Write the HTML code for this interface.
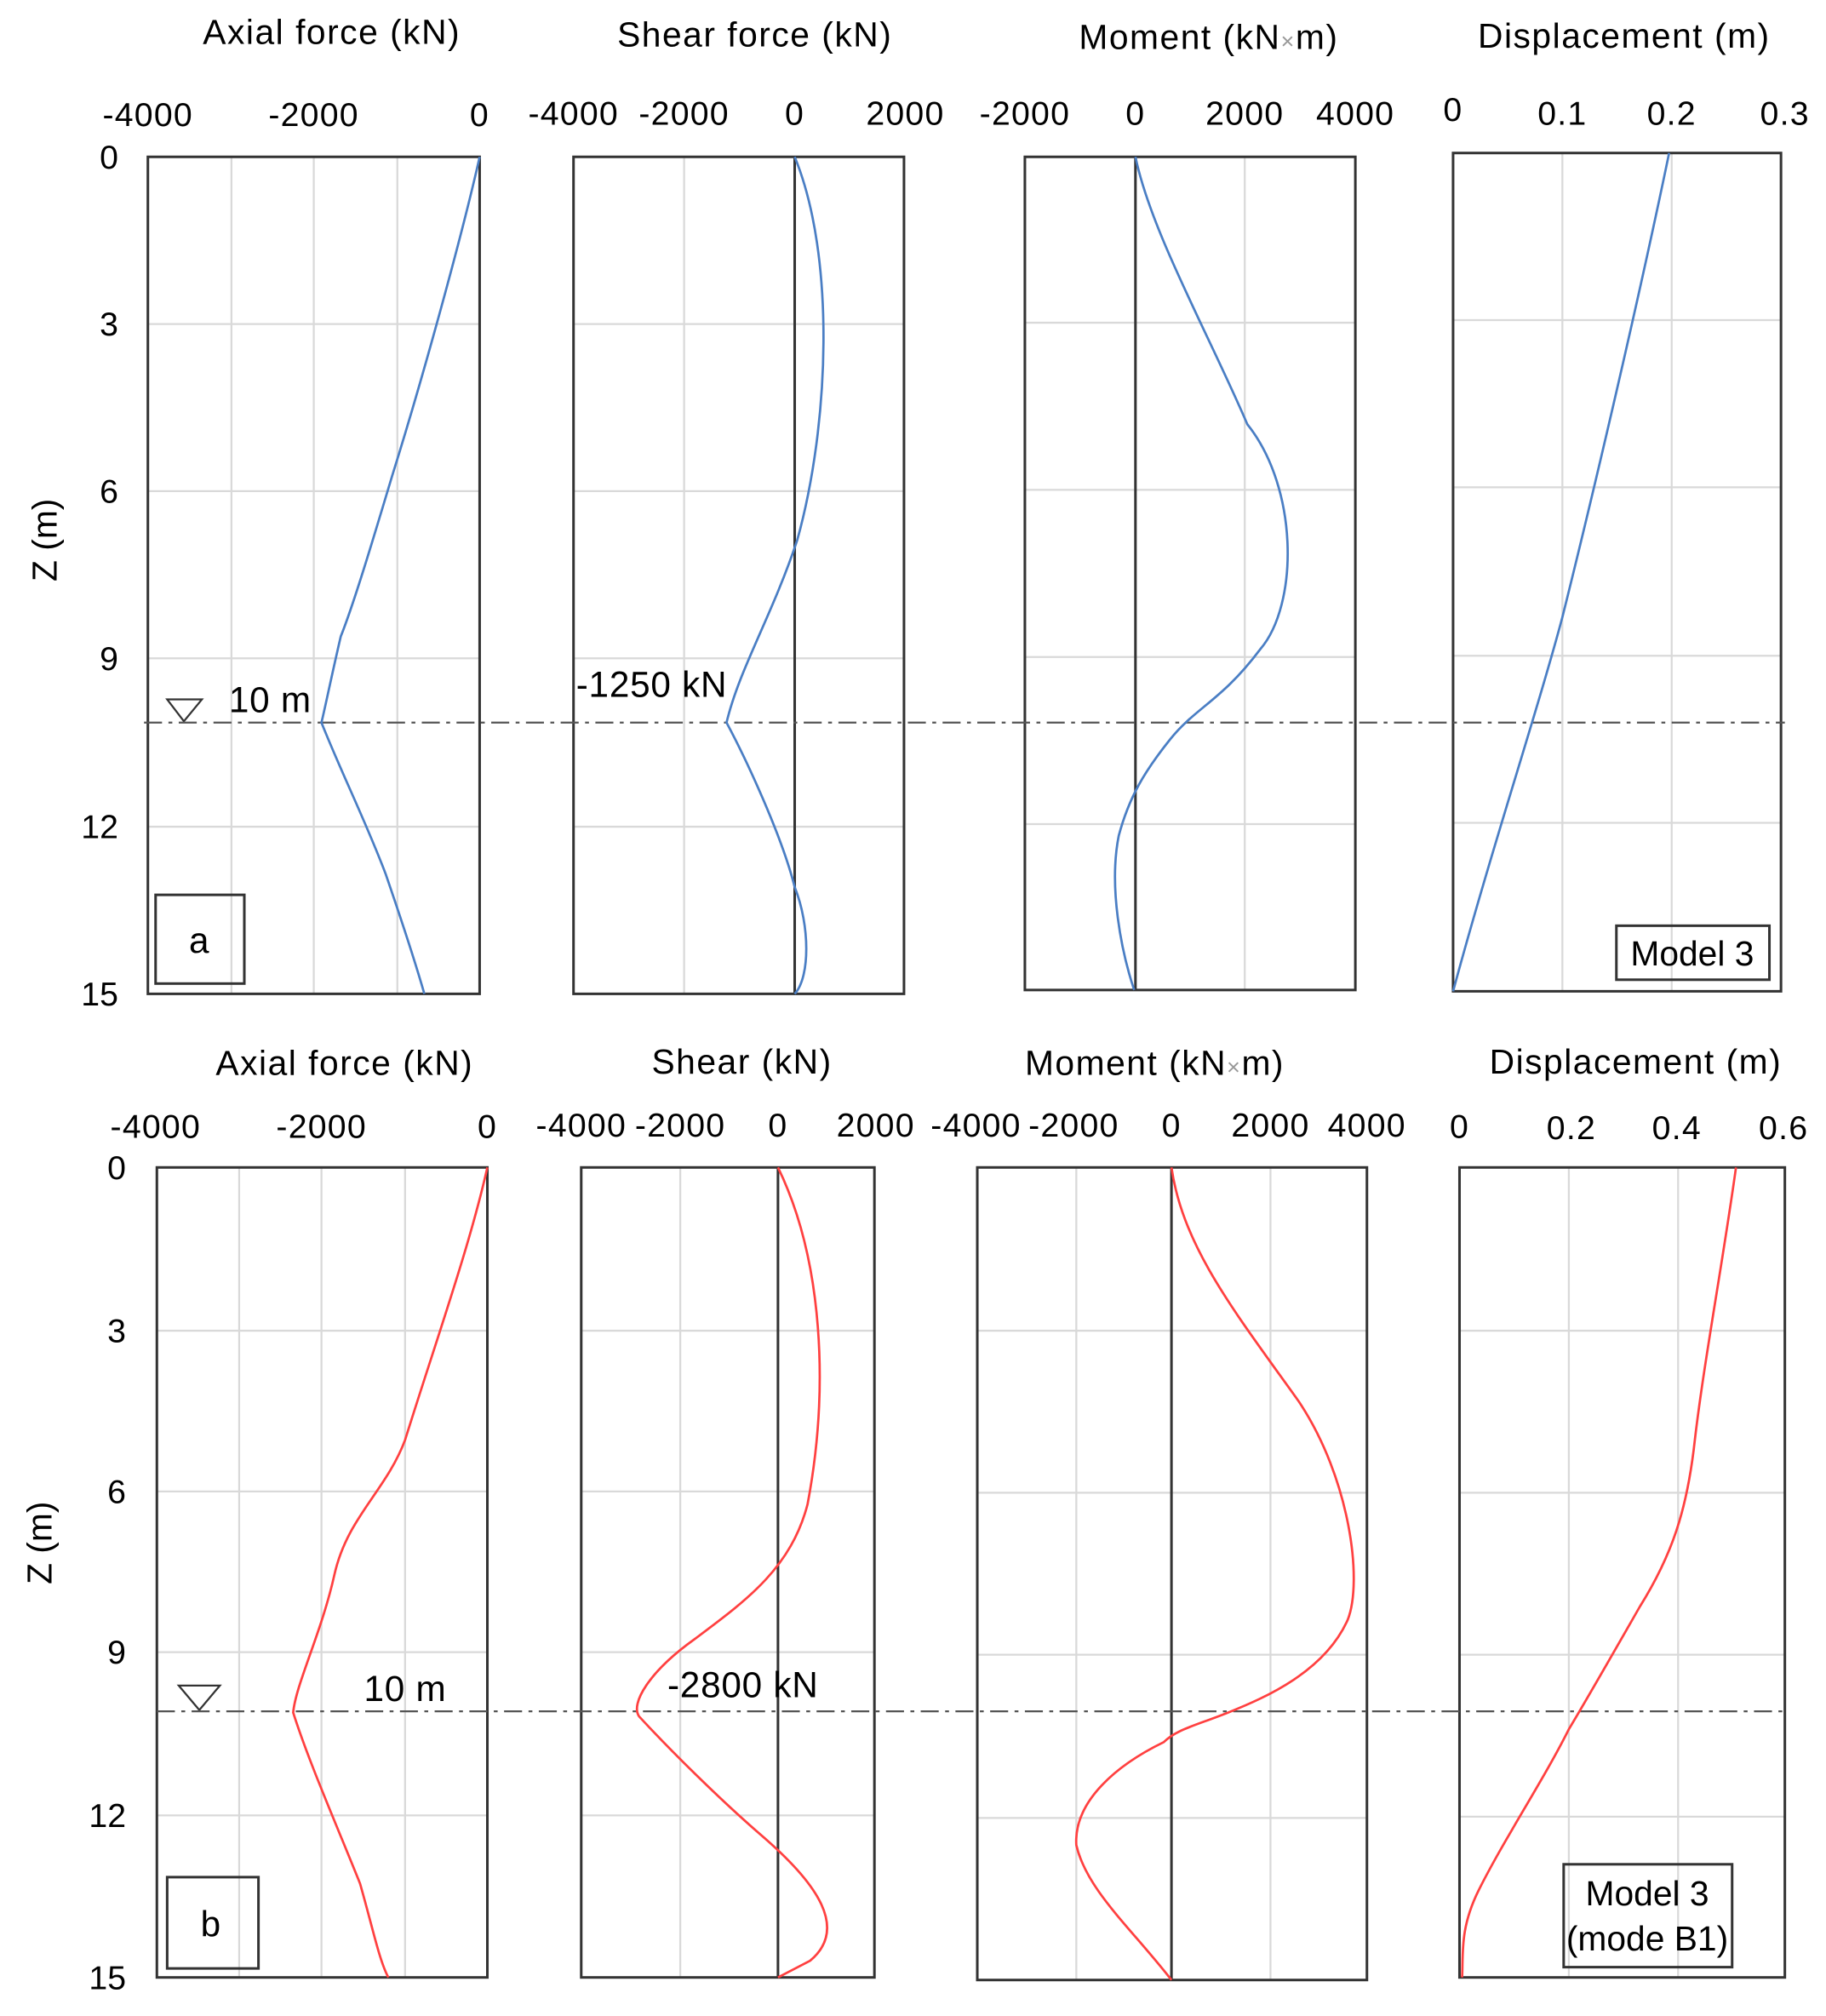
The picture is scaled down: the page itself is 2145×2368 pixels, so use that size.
<!DOCTYPE html>
<html><head><meta charset="utf-8"><style>html,body{margin:0;padding:0;background:#fff}svg{display:block}text{font-family:"Liberation Sans",sans-serif;fill:#000}</style></head><body>
<svg width="2145" height="2368" viewBox="0 0 1420 1568" preserveAspectRatio="none" xmlns="http://www.w3.org/2000/svg">
<g stroke="#d9d9d9" stroke-width="1.5" fill="none">
<path d="M180 122V773M244 122V773M309 122V773M115 252H373M115 382H373M115 512H373M115 643H373"/>
<path d="M532 122V773M446 252H703M446 382H703M446 512H703M446 643H703"/>
<path d="M968 122V770M797 251H1054M797 381H1054M797 511H1054M797 641H1054"/>
<path d="M1215 119V771M1300 119V771M1130 249H1385M1130 379H1385M1130 510H1385M1130 640H1385"/>
<path d="M186 908V1538M250 908V1538M315 908V1538M122 1035H379M122 1160H379M122 1285H379M122 1412H379"/>
<path d="M529 908V1538M452 1035H680M452 1160H680M452 1285H680M452 1412H680"/>
<path d="M837 908V1540M988 908V1540M760 1035H1063M760 1161H1063M760 1287H1063M760 1414H1063"/>
<path d="M1220 908V1538M1305 908V1538M1135 1035H1388M1135 1161H1388M1135 1287H1388M1135 1413H1388"/>
</g>
<g stroke="#333" stroke-width="2" fill="none">
<rect x="115" y="122" width="258" height="651"/>
<rect x="446" y="122" width="257" height="651"/>
<rect x="797" y="122" width="257" height="648"/>
<rect x="1130" y="119" width="255" height="652"/>
<rect x="122" y="908" width="257" height="630"/>
<rect x="452" y="908" width="228" height="630"/>
<rect x="760" y="908" width="303" height="632"/>
<rect x="1135" y="908" width="253" height="630"/>
<path d="M618 122V773M883 122V770M605 908V1538M911 908V1540"/>
<rect x="121" y="696" width="69" height="69"/>
<rect x="130" y="1460" width="71" height="71"/>
<rect x="1257" y="720" width="119" height="42"/>
<rect x="1216" y="1450" width="131" height="80"/>
<path d="M130 544H157L143 561Z" stroke-width="1.5"/>
<path d="M139 1311H171L155 1330Z" stroke-width="1.5"/>
</g>
<g stroke="#555" stroke-width="1.5" stroke-dasharray="14,5,3,5" fill="none">
<path d="M112 562H1388"/><path d="M122 1331H1388"/>
</g>
<g stroke="#4a7ec4" stroke-width="1.8" fill="none" stroke-linejoin="round">
<path d="M373,122 C360,180 330,290 305,370 C290,420 275,470 265,495 C258,525 254,545 250,562 C265,600 285,640 300,680 C312,715 322,745 330,773"/>
<path d="M618,122 C650,200 645,330 620,420 C600,480 575,520 565,562 C580,590 608,650 618,690 C630,720 630,760 618,773"/>
<path d="M883,122 C895,180 940,260 970,330 C1010,380 1010,470 980,505 C950,545 930,550 910,575 C890,600 878,620 870,650 C862,690 872,740 882,770"/>
<path d="M1298,119 C1275,230 1240,380 1215,480 C1195,555 1160,660 1130,771"/>
</g>
<g stroke="#ff4040" stroke-width="1.8" fill="none" stroke-linejoin="round">
<path d="M379,908 C365,970 340,1040 315,1120 C300,1160 270,1180 260,1225 C250,1270 230,1310 228,1332 C240,1370 262,1420 280,1465 C290,1500 295,1525 302,1538"/>
<path d="M605,908 C640,980 645,1080 628,1170 C615,1220 580,1245 540,1275 C505,1300 490,1325 497,1335 C520,1360 560,1400 595,1430 C635,1465 660,1500 630,1525 L605,1538"/>
<path d="M911,908 C920,970 960,1020 1010,1090 C1050,1150 1060,1230 1048,1260 C1030,1300 985,1320 955,1332 C930,1342 915,1345 905,1355 C870,1372 835,1400 837,1435 C845,1470 880,1500 911,1540"/>
<path d="M1350,908 C1340,980 1325,1060 1318,1120 C1312,1175 1300,1210 1275,1250 C1255,1285 1235,1320 1220,1345 C1200,1385 1170,1430 1150,1470 C1135,1500 1138,1520 1137,1538"/>
</g>
<g font-size="27" text-anchor="middle" letter-spacing="1">
<text x="258" y="34">Axial force (kN)</text>
<text x="587" y="36">Shear force (kN)</text>
<text x="940" y="38">Moment (kN<tspan fill="#999" font-size="18">×</tspan>m)</text>
<text x="1263" y="37">Displacement (m)</text>
<text x="268" y="836">Axial force (kN)</text>
<text x="577" y="835">Shear (kN)</text>
<text x="898" y="836">Moment (kN<tspan fill="#999" font-size="18">×</tspan>m)</text>
<text x="1272" y="835">Displacement (m)</text>
</g>
<g font-size="26" text-anchor="middle" letter-spacing="0.8">
<text x="115" y="98">-4000</text><text x="244" y="98">-2000</text><text x="373" y="98">0</text>
<text x="446" y="97">-4000</text><text x="532" y="97">-2000</text><text x="618" y="97">0</text><text x="704" y="97">2000</text>
<text x="797" y="97">-2000</text><text x="883" y="97">0</text><text x="968" y="97">2000</text><text x="1054" y="97">4000</text>
<text x="1130" y="94">0</text><text x="1215" y="97">0.1</text><text x="1300" y="97">0.2</text><text x="1388" y="97">0.3</text>
<text x="121" y="885">-4000</text><text x="250" y="885">-2000</text><text x="379" y="885">0</text>
<text x="452" y="884">-4000</text><text x="529" y="884">-2000</text><text x="605" y="884">0</text><text x="681" y="884">2000</text>
<text x="759" y="884">-4000</text><text x="835" y="884">-2000</text><text x="911" y="884">0</text><text x="988" y="884">2000</text><text x="1063" y="884">4000</text>
<text x="1135" y="885">0</text><text x="1222" y="886">0.2</text><text x="1304" y="886">0.4</text><text x="1387" y="886">0.6</text>
</g>
<g font-size="26" text-anchor="end">
<text x="92" y="131">0</text><text x="92" y="261">3</text><text x="92" y="391">6</text><text x="92" y="521">9</text><text x="92" y="652">12</text><text x="92" y="782">15</text>
<text x="98" y="917">0</text><text x="98" y="1044">3</text><text x="98" y="1169">6</text><text x="98" y="1294">9</text><text x="98" y="1421">12</text><text x="98" y="1547">15</text>
</g>
<text font-size="27" transform="translate(44,420) rotate(-90)" text-anchor="middle">Z (m)</text>
<text font-size="27" transform="translate(40,1200) rotate(-90)" text-anchor="middle">Z (m)</text>
<g font-size="28" letter-spacing="0.5">
<text x="178" y="554">10 m</text>
<text x="448" y="542">-1250 kN</text>
<text x="283" y="1323">10 m</text>
<text x="519" y="1320">-2800 kN</text>
<text x="147" y="741">a</text>
<text x="156" y="1506">b</text>
</g>
<g font-size="27" text-anchor="middle">
<text x="1316" y="751">Model 3</text>
<text x="1281" y="1482">Model 3</text>
<text x="1281" y="1517">(mode B1)</text>
</g>
</svg>
</body></html>
